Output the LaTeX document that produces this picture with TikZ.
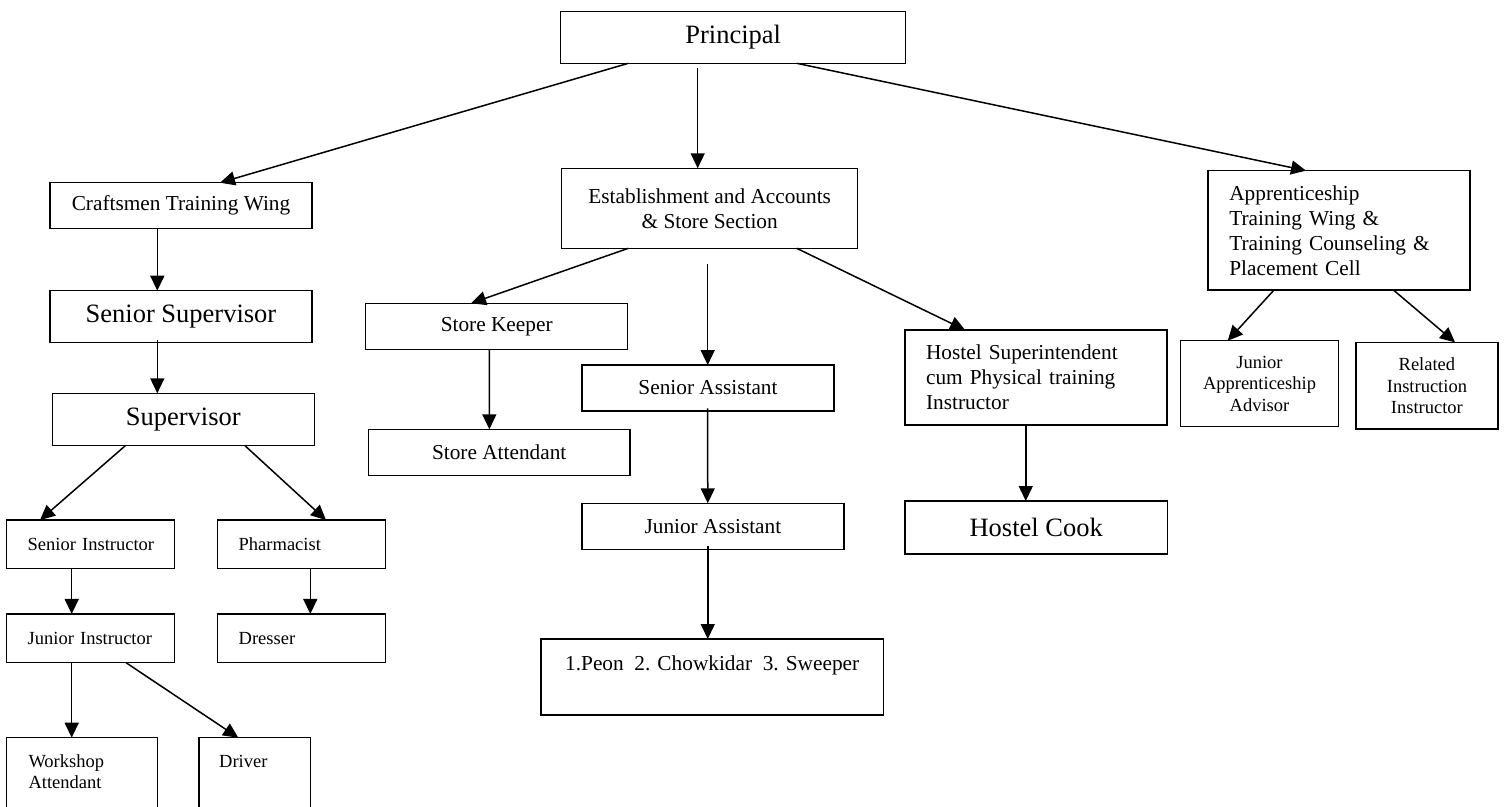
\documentclass[tikz,border=0pt]{standalone}
\usepackage{fontspec}
\setmainfont{Liberation Serif}
\usetikzlibrary{arrows.meta}
\begin{document}
\begin{tikzpicture}[x=1pt,y=-1pt,
  box/.style={draw, line width=1.5pt, rectangle, inner sep=0pt, outer sep=0pt, align=center},
  lbox/.style={box, align=left},
  big/.style={font=\fontsize{26.5}{30}\selectfont},
  mid/.style={font=\fontsize{21.3}{25}\selectfont},
  sml/.style={font=\fontsize{18.5}{21.5}\selectfont},
  arr/.style={line width=1.5pt, -{Triangle[length=15pt,width=14pt]}}
]
\useasboundingbox (0,0) rectangle (1506,806);
\clip (0,0) rectangle (1506,806);

% top
\node[box,big,minimum width=345pt,minimum height=52pt] (principal) at (733.2,37.3) {Principal};
\node[box,mid,minimum width=296pt,minimum height=80pt] (est) at (709.7,208.3) {Establishment and Accounts\\\& Store Section};
\node[lbox,mid,inner xsep=21.6pt,text width=219.1pt,minimum width=262.3pt,minimum height=119.3pt] (app) at (1338.9,230.3) {\mbox{Apprenticeship}\\\mbox{Training Wing \&}\\\mbox{Training Counseling \&}\\\mbox{Placement Cell}};

% left branch
\node[box,mid,minimum width=262pt,minimum height=45.6pt] (craft) at (181,205.5) {Craftsmen Training Wing};
\node[box,big,minimum width=262pt,minimum height=52pt] (ssup) at (181,316.7) {Senior Supervisor};
\node[box,big,minimum width=262pt,minimum height=52.4pt] (sup) at (183.3,419.5) {Supervisor};
\node[lbox,sml,inner xsep=21pt,text width=125.6pt,minimum width=167.6pt,minimum height=48.3pt] (sins) at (90.5,544.2) {\mbox{Senior Instructor}};
\node[lbox,sml,inner xsep=21pt,text width=126pt,minimum width=168pt,minimum height=48.3pt] (pharm) at (301.7,544.2) {\mbox{Pharmacist}};
\node[lbox,sml,inner xsep=21pt,text width=125.6pt,minimum width=167.6pt,minimum height=48.7pt] (jins) at (90.5,638.3) {\mbox{Junior Instructor}};
\node[lbox,sml,inner xsep=21pt,text width=126pt,minimum width=168pt,minimum height=48.7pt] (dresser) at (301.7,638.3) {\mbox{Dresser}};
\node[box,minimum width=151pt,minimum height=100pt,
  label={[sml,anchor=north west,align=left,inner sep=0pt,xshift=21.6pt,yshift=-16.5pt]north west:Workshop\\Attendant}] (wsa) at (82.2,787.7) {};
\node[box,minimum width=111.7pt,minimum height=100pt,
  label={[sml,anchor=north west,inner sep=0pt,xshift=20pt,yshift=-17.5pt]north west:Driver}] (driver) at (254.85,787.7) {};

% middle branch
\node[box,mid,minimum width=262pt,minimum height=46pt] (skeep) at (496.7,326.3) {Store Keeper};
\node[box,mid,minimum width=261.7pt,minimum height=46.4pt] (satt) at (499.2,452.5) {Store Attendant};
\node[box,mid,minimum width=252pt,minimum height=45.7pt] (sasst) at (708,387.9) {Senior Assistant};
\node[box,mid,minimum width=262.3pt,minimum height=46pt] (jasst) at (712.9,526.3) {Junior Assistant};
\node[box,minimum width=342.3pt,minimum height=76pt,
  label={[mid,anchor=north,inner sep=0pt,yshift=-16.8pt]north:1.Peon\ \ 2. Chowkidar\ \ 3. Sweeper}] (peon) at (712.2,677) {};
\node[lbox,mid,inner xsep=21pt,text width=219.7pt,minimum width=261.7pt,minimum height=95pt] (hsupt) at (1035.9,377.5) {\mbox{Hostel Superintendent}\\\mbox{cum Physical training}\\\mbox{Instructor}};
\node[box,big,minimum width=262.3pt,minimum height=53pt] (hcook) at (1036.2,527.5) {Hostel Cook};

% right branch
\node[box,sml,minimum width=157.6pt,minimum height=86pt] (jaa) at (1259.5,383.7) {Junior\\Apprenticeship\\Advisor};
\node[box,sml,minimum width=141.7pt,minimum height=86.7pt] (rii) at (1426.9,385.7) {Related\\Instruction\\Instructor};

% connectors
\draw[arr] ([xshift=67.6pt]principal.south west) -- ([xshift=170pt]craft.north west);
\draw[arr] ([xshift=137pt,yshift=-4.4pt]principal.south west) -- ([xshift=136pt]est.north west);
\draw[arr] ([xshift=236pt]principal.south west) -- ([xshift=98.3pt]app.north west);
\draw[arr] ([xshift=107.3pt]craft.south west) -- ([xshift=107.3pt]ssup.north west);
\draw[arr] ([xshift=107.3pt,yshift=2.7pt]ssup.south west) -- ([xshift=105pt]sup.north west);
\draw[arr] ([xshift=73pt]sup.south west) -- ([xshift=33.3pt]sins.north west);
\draw[arr] ([xshift=192.7pt]sup.south west) -- ([xshift=108.3pt]pharm.north west);
\draw[arr] ([xshift=65pt]sins.south west) -- ([xshift=65pt]jins.north west);
\draw[arr] ([xshift=92.6pt]pharm.south west) -- ([xshift=92.6pt]dresser.north west);
\draw[arr] ([xshift=65pt]jins.south west) -- ([xshift=65pt]wsa.north west);
\draw[arr] ([xshift=119.3pt]jins.south west) -- ([xshift=39.3pt]driver.north west);
\draw[arr] ([xshift=66.6pt]est.south west) -- ([xshift=105.3pt]skeep.north west);
\draw[arr] ([xshift=123.6pt]skeep.south west) -- ([xshift=121pt]satt.north west);
\draw[arr] ([xshift=146pt,yshift=-16pt]est.south west) -- ([xshift=125.7pt]sasst.north west);
\draw[arr] ([xshift=125.7pt,yshift=2.4pt]sasst.south west) -- ([xshift=126pt]jasst.north west);
\draw[arr] ([xshift=126pt,yshift=3.6pt]jasst.south west) -- ([xshift=166.7pt]peon.north west);
\draw[arr] ([xshift=235pt]est.south west) -- ([xshift=60pt]hsupt.north west);
\draw[arr] ([xshift=120.7pt]hsupt.south west) -- ([xshift=120.7pt]hcook.north west);
\draw[arr] ([xshift=66.3pt]app.south west) -- ([xshift=47pt]jaa.north west);
\draw[arr] ([xshift=185.6pt]app.south west) -- ([xshift=99pt]rii.north west);
\end{tikzpicture}
\end{document}
